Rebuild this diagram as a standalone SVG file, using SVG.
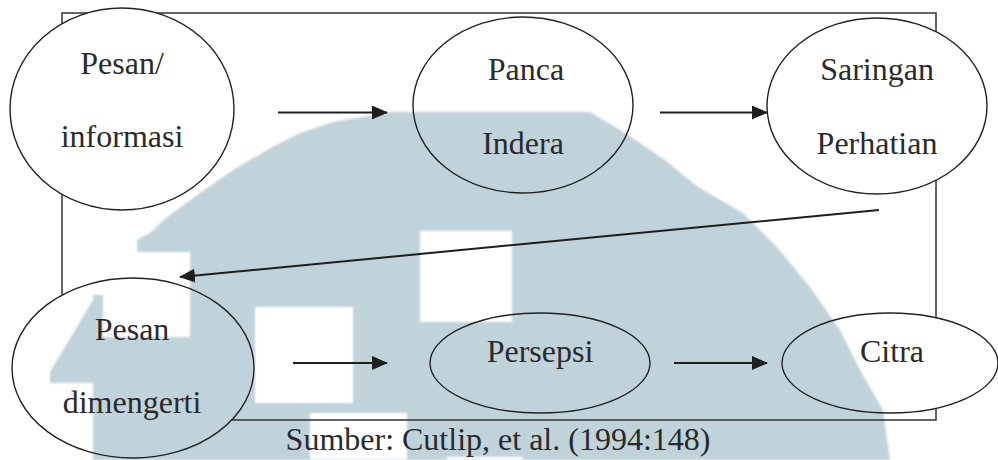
<svg xmlns="http://www.w3.org/2000/svg" width="998" height="460" viewBox="0 0 998 460">
  <defs>
    <style>
      .frame { fill: none; stroke: #333; stroke-width: 1.5; }
      .ell { fill: none; stroke: #222; stroke-width: 1.4; }
      .lbl { font-family: "Liberation Serif", "Times New Roman", serif; font-size: 32px; fill: #2a2a2a; text-anchor: middle; }
      .arr { stroke: #1e1e1e; stroke-width: 2; marker-end: url(#ah); }
      .wm { fill: #c1d3da; fill-rule: evenodd; }
    </style>
    <marker id="ah" markerUnits="userSpaceOnUse" markerWidth="16" markerHeight="14" refX="15" refY="7" viewBox="0 0 16 14" orient="auto">
      <path d="M0,0 L16,7 L0,14 Z" fill="#1e1e1e"/>
    </marker>
    <filter id="soft" x="-5%" y="-5%" width="110%" height="110%">
      <feGaussianBlur stdDeviation="1.2"/>
    </filter>
    <mask id="frameMask" maskUnits="userSpaceOnUse" x="0" y="0" width="998" height="460">
      <rect width="998" height="460" fill="#fff"/>
      <ellipse cx="122" cy="109" rx="112" ry="101" fill="#000"/>
      <ellipse cx="523" cy="105" rx="110" ry="88" fill="#000"/>
      <ellipse cx="877" cy="106" rx="110" ry="88" fill="#000"/>
      <ellipse cx="133" cy="368" rx="121" ry="90" fill="#000"/>
      <ellipse cx="540" cy="363" rx="110" ry="50" fill="#000"/>
      <ellipse cx="890" cy="363" rx="108" ry="50" fill="#000"/>
    </mask>
  </defs>

  <rect width="998" height="460" fill="#fff"/>

  <path id="watermark" class="wm" filter="url(#soft)" d="M390,112 L590,112 L625,133 L665,160 L698,187 L743,213 L777,247 L810,287 L840,330 L860,370 L883,410 L890,460 L93,460 L93,383 L50,383 L50,372 L93,300 L93,295 L103,295 L103,337 L190,337 L190,252 L137,252 L137,240 L150,233 L167,217 L200,193 L233,170 L267,150 L300,133 L333,122 Z M420,231 L512,231 L512,322 L420,322 Z M255,307 L353,307 L353,403 L255,403 Z M310,413 L407,413 L407,462 L310,462 Z M447,457 L523,457 L523,462 L447,462 Z"/>

  <rect class="frame" x="62" y="13" width="874" height="407" mask="url(#frameMask)"/>

  <g id="node-pesan-informasi">
    <ellipse class="ell" cx="122" cy="109" rx="112" ry="101"/>
    <text class="lbl" x="122" y="74">Pesan/</text>
    <text class="lbl" x="122" y="147">informasi</text>
  </g>
  <g id="node-panca-indera">
    <ellipse class="ell" cx="523" cy="105" rx="110" ry="88"/>
    <text class="lbl" x="526" y="80">Panca</text>
    <text class="lbl" x="523" y="154">Indera</text>
  </g>
  <g id="node-saringan-perhatian">
    <ellipse class="ell" cx="877" cy="106" rx="110" ry="88"/>
    <text class="lbl" x="877" y="80">Saringan</text>
    <text class="lbl" x="877" y="154">Perhatian</text>
  </g>
  <g id="node-pesan-dimengerti">
    <ellipse class="ell" cx="133" cy="368" rx="121" ry="90"/>
    <text class="lbl" x="132" y="340">Pesan</text>
    <text class="lbl" x="132" y="413">dimengerti</text>
  </g>
  <g id="node-persepsi">
    <ellipse class="ell" cx="540" cy="363" rx="110" ry="50"/>
    <text class="lbl" x="540" y="362">Persepsi</text>
  </g>
  <g id="node-citra">
    <ellipse class="ell" cx="890" cy="363" rx="108" ry="50"/>
    <text class="lbl" x="892" y="362">Citra</text>
  </g>

  <g id="connectors">
    <line class="arr" x1="278" y1="112.5" x2="387" y2="112.5"/>
    <line class="arr" x1="660" y1="112.5" x2="767" y2="112.5"/>
    <line class="arr" x1="879" y1="210" x2="180" y2="277"/>
    <line class="arr" x1="293" y1="363" x2="387" y2="363"/>
    <line class="arr" x1="674" y1="363" x2="767" y2="363"/>
  </g>

  <text id="caption" class="lbl" x="498" y="450">Sumber: Cutlip, et al. (1994:148)</text>
</svg>
